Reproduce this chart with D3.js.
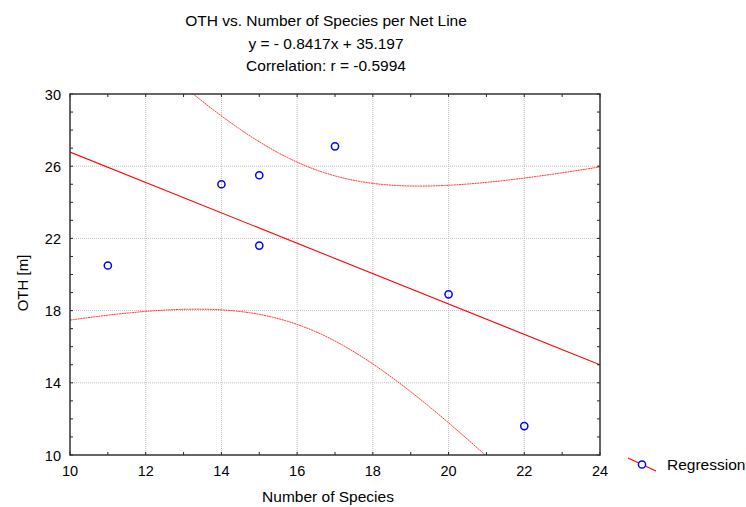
<!DOCTYPE html>
<html>
<head>
<meta charset="utf-8">
<script src="https://cdn.jsdelivr.net/npm/d3@7"></script>
<style>
  body { margin: 0; background: #ffffff; }
  svg { display: block; font-family: "Liberation Sans", Arial, sans-serif; }
</style>
</head>
<body>
<script>
// data
const species = [11, 14, 15, 15, 17, 20, 22];
const oth = [20.5, 25.0, 25.5, 21.6, 27.1, 18.9, 11.6];
const slope = -0.8417;
const intercept = 35.197;
const xTicks = [10, 12, 14, 16, 18, 20, 22, 24];
const yTicks = [10, 14, 18, 22, 26, 30];
const titleLines = [
  "OTH vs. Number of Species per Net Line",
  "y = - 0.8417x + 35.197",
  "Correlation: r = -0.5994"
];

const width = 746, height = 507;
const margin = { top: 94, right: 146, bottom: 52, left: 70 };

const svg = d3.select("body").append("svg")
  .attr("width", width)
  .attr("height", height);

const x = d3.scaleLinear().domain([10, 24]).range([margin.left, width - margin.right]);
const y = d3.scaleLinear().domain([10, 30]).range([height - margin.bottom, margin.top]);

// grid
svg.append("g")
  .selectAll("line.vgrid")
  .data(xTicks.slice(1, -1))
  .join("line")
  .attr("x1", d => x(d)).attr("x2", d => x(d))
  .attr("y1", y(10)).attr("y2", y(30))
  .attr("stroke", "#c0c0c0")
  .attr("stroke-width", 1)
  .attr("stroke-dasharray", "1,1");

svg.append("g")
  .selectAll("line.hgrid")
  .data(yTicks.slice(1, -1))
  .join("line")
  .attr("x1", x(10)).attr("x2", x(24))
  .attr("y1", d => y(d)).attr("y2", d => y(d))
  .attr("stroke", "#c0c0c0")
  .attr("stroke-width", 1)
  .attr("stroke-dasharray", "1,1");

// 95% confidence band, from the points
const n = species.length;
const mx = d3.mean(species);
const sxx = d3.sum(species, v => (v - mx) ** 2);
const sse = d3.sum(species, (v, i) => (oth[i] - (intercept + slope * v)) ** 2);
const s = Math.sqrt(sse / (n - 2));
const tval = 2.5706;
const xs = d3.range(10, 24.001, 0.05);
const half = v => tval * s * Math.sqrt(1 / n + (v - mx) ** 2 / sxx);

svg.append("clipPath").attr("id", "plotClip")
  .append("rect")
  .attr("x", x(10)).attr("y", y(30))
  .attr("width", x(24) - x(10)).attr("height", y(10) - y(30));

const plot = svg.append("g").attr("clip-path", "url(#plotClip)");

const curve = d3.line().x(d => x(d[0])).y(d => y(d[1]));

plot.append("path")
  .attr("d", curve(xs.map(v => [v, intercept + slope * v + half(v)])))
  .attr("fill", "none").attr("stroke", "#ff1a1a").attr("stroke-width", 0.9)
  .attr("stroke-dasharray", "2,0.6");

plot.append("path")
  .attr("d", curve(xs.map(v => [v, intercept + slope * v - half(v)])))
  .attr("fill", "none").attr("stroke", "#ff1a1a").attr("stroke-width", 0.9)
  .attr("stroke-dasharray", "2,0.6");

plot.append("path")
  .attr("d", curve([[10, intercept + slope * 10], [24, intercept + slope * 24]]))
  .attr("fill", "none").attr("stroke", "#ff0000").attr("stroke-width", 1.1);

// points
svg.append("g")
  .selectAll("circle")
  .data(species.map((v, i) => [v, oth[i]]))
  .join("circle")
  .attr("cx", d => x(d[0]))
  .attr("cy", d => y(d[1]))
  .attr("r", 3.6)
  .attr("fill", "none")
  .attr("stroke", "#0000ff")
  .attr("stroke-width", 1.5);

// frame and ticks
const minorX = d3.range(10, 24.5, 1);
const minorY = d3.range(10, 30.5, 1);
const frame = svg.append("g").attr("stroke", "#222").attr("stroke-width", 1);

frame.selectAll("line.bx").data(minorX).join("line")
  .attr("x1", d => x(d)).attr("x2", d => x(d))
  .attr("y1", y(10)).attr("y2", y(10) - 3);
frame.selectAll("line.tx").data(minorX).join("line")
  .attr("x1", d => x(d)).attr("x2", d => x(d))
  .attr("y1", y(30)).attr("y2", y(30) + 3);
frame.selectAll("line.ly").data(minorY).join("line")
  .attr("x1", x(10)).attr("x2", x(10) + 3)
  .attr("y1", d => y(d)).attr("y2", d => y(d));
frame.selectAll("line.ry").data(minorY).join("line")
  .attr("x1", x(24) - 3).attr("x2", x(24))
  .attr("y1", d => y(d)).attr("y2", d => y(d));

svg.append("rect")
  .attr("x", x(10)).attr("y", y(30))
  .attr("width", x(24) - x(10)).attr("height", y(10) - y(30))
  .attr("fill", "none")
  .attr("stroke", "#333")
  .attr("stroke-width", 1.5);

// tick labels
svg.append("g")
  .selectAll("text")
  .data(xTicks)
  .join("text")
  .attr("x", d => x(d))
  .attr("y", y(10) + 21)
  .attr("text-anchor", "middle")
  .attr("font-size", "14.5px")
  .attr("fill", "#000")
  .text(d => d);

svg.append("g")
  .selectAll("text")
  .data(yTicks)
  .join("text")
  .attr("x", x(10) - 9)
  .attr("y", d => y(d) + 5.5)
  .attr("text-anchor", "end")
  .attr("font-size", "14.5px")
  .attr("fill", "#000")
  .text(d => d);

// axis titles
svg.append("text")
  .attr("x", 328)
  .attr("y", 502)
  .attr("text-anchor", "middle")
  .attr("font-size", "15.5px")
  .text("Number of Species");

svg.append("text")
  .attr("transform", "translate(28,283) rotate(-90)")
  .attr("text-anchor", "middle")
  .attr("font-size", "15px")
  .text("OTH [m]");

// title
svg.append("g")
  .selectAll("text")
  .data(titleLines)
  .join("text")
  .attr("x", 326)
  .attr("y", (d, i) => 26 + i * 22.7)
  .attr("text-anchor", "middle")
  .attr("font-size", "15.5px")
  .text(d => d);

// legend
const leg = svg.append("g");
leg.append("line")
  .attr("x1", 628).attr("y1", 458).attr("x2", 656).attr("y2", 471)
  .attr("stroke", "#ff0000").attr("stroke-width", 1.1);
leg.append("circle")
  .attr("cx", 642).attr("cy", 464.5).attr("r", 3.6)
  .attr("fill", "#fff").attr("stroke", "#0000ff").attr("stroke-width", 1.5);
leg.append("text")
  .attr("x", 667).attr("y", 470)
  .attr("font-size", "15.5px")
  .text("Regression");
</script>
</body>
</html>
